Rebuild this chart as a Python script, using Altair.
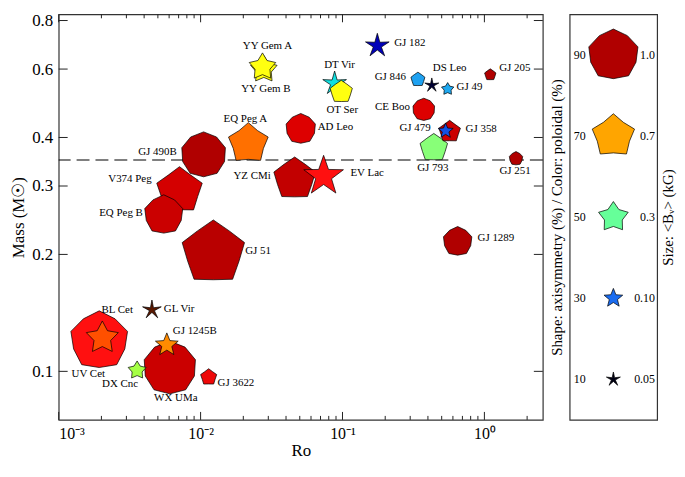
import altair as alt
import pandas as pd
import numpy as np

FONT = "Liberation Serif"

# ---------------- data ----------------
names = ["YY Gem A", "YY Gem B", "EQ Peg A", "GJ 490B", "V374 Peg", "EQ Peg B", "YZ CMi",
         "AD Leo", "EV Lac", "GJ 182", "DT Vir", "OT Ser", "GJ 846", "DS Leo", "GJ 49",
         "GJ 205", "CE Boo", "GJ 358", "GJ 479", "GJ 793", "GJ 251", "GJ 1289", "GJ 51",
         "UV Cet", "BL Cet", "GL Vir", "GJ 1245B", "WX UMa", "DX Cnc", "GJ 3622"]
ro = [0.0273, 0.0279, 0.0217, 0.0105, 0.0071, 0.0055, 0.046,
      0.0508, 0.0736, 0.176, 0.088, 0.098, 0.34, 0.426, 0.551,
      1.10, 0.374, 0.569, 0.533, 0.44, 1.67, 0.648, 0.0123,
      0.00193, 0.00203, 0.00454, 0.00578, 0.00607, 0.00357, 0.0114]
mass = [0.608, 0.598, 0.386, 0.361, 0.292, 0.253, 0.313,
        0.421, 0.318, 0.689, 0.551, 0.524, 0.564, 0.545, 0.533,
        0.580, 0.472, 0.414, 0.416, 0.376, 0.353, 0.216, 0.202,
        0.120, 0.122, 0.144, 0.117, 0.102, 0.1006, 0.0966]
bv = [0.23, 0.23, 0.60, 0.75, 0.83, 0.54, 0.67,
      0.29, 0.60, 0.175, 0.175, 0.15, 0.05, 0.05, 0.037,
      0.03, 0.14, 0.14, 0.06, 0.25, 0.044, 0.27, 1.76,
      1.40, 0.36, 0.10, 0.16, 1.10, 0.09, 0.07]
poloidal = [61, 61, 74, 90, 86, 87, 88,
            85, 81, 22, 42, 61, 37, 14, 38,
            90, 85, 87, 28, 54, 90, 90, 89,
            81, 77, 100, 72, 87, 57, 83]
axisym = [45, 45, 70, 95, 75, 90, 78,
          92, 25, 18, 18, 78, 78, 10, 45,
          78, 95, 75, 30, 78, 88, 90, 78,
          88, 40, 8, 30, 95, 45, 75]

leg_axisym = [90, 70, 50, 30, 10]
leg_pol = [90, 70, 50, 30, 10]
leg_bv = [1.0, 0.7, 0.3, 0.10, 0.05]
leg_bv_text = ["1.0", "0.7", "0.3", "0.10", "0.05"]

x_major = [0.001, 0.01, 0.1, 1]
x_minor = [0.002, 0.003, 0.004, 0.005, 0.006, 0.007, 0.008, 0.009,
           0.02, 0.03, 0.04, 0.05, 0.06, 0.07, 0.08, 0.09,
           0.2, 0.3, 0.4, 0.5, 0.6, 0.7, 0.8, 0.9, 2]
y_major = [0.1, 0.2, 0.3, 0.4, 0.6, 0.8]
split_mass = [0.35]

# label placement (align, dx, dy) -- styling
label_style = {
    "YY Gem A": ("center", 5, -21), "YY Gem B": ("center", 2, 20),
    "EQ Peg A": ("center", -3, -25), "GJ 490B": ("right", -27, -3),
    "V374 Peg": ("right", -28, -12), "EQ Peg B": ("right", -21, -2),
    "YZ CMi": ("right", -24, -3), "AD Leo": ("left", 17, -2),
    "EV Lac": ("left", 27, -3), "GJ 182": ("left", 17, -3),
    "DT Vir": ("center", 5, -19), "OT Ser": ("center", 1, 18),
    "GJ 846": ("right", -12, -3), "DS Leo": ("left", 1, -17),
    "GJ 49": ("left", 9, -2), "GJ 205": ("left", 9, -7),
    "CE Boo": ("right", -14, -3), "GJ 479": ("right", -15, -3),
    "GJ 358": ("left", 16, -3), "GJ 793": ("center", -1, 20),
    "GJ 251": ("center", -1, 13), "GJ 1289": ("left", 20, -3),
    "GJ 51": ("left", 32, -2), "UV Cet": ("center", -11, 34),
    "BL Cet": ("center", 15, -28), "GL Vir": ("left", 12, -1),
    "GJ 1245B": ("left", 6, -14), "WX UMa": ("center", 6, 30),
    "DX Cnc": ("right", 1, 14), "GJ 3622": ("left", 9, 6),
}


def star_path(a):
    """5-pointed star; inner radius grows with axisymmetry (decagon when fully axisymmetric)."""
    rho = 0.2 + 0.8 * a / 100.0
    pts = []
    for k in range(10):
        ang = np.deg2rad(-90 + 36 * k)
        r = 1.0 if k % 2 == 0 else rho
        pts.append(f"{r*np.cos(ang):.4f},{r*np.sin(ang):.4f}")
    return "M" + " L".join(pts) + " Z"


df = pd.DataFrame({"name": names, "ro": ro, "mass": mass, "bv": bv,
                   "pol": poloidal, "ax": axisym})
df["path"] = [star_path(a) for a in df["ax"]]
df = df.sort_values("bv", ascending=False).reset_index(drop=True)

ldf = pd.DataFrame({"ax": leg_axisym, "pol": leg_pol, "bv": leg_bv, "btxt": leg_bv_text})
ldf["path"] = [star_path(a) for a in ldf["ax"]]

# ---------------- scales / axes ----------------
W, H = 487, 408
LW = 88
xs = alt.Scale(type="log", domain=[0.001, 2.58], nice=False)
ys = alt.Scale(type="log", domain=[0.075, 0.83], nice=False)
size_scale = alt.Scale(type="pow", exponent=0.84, domain=[0, 1], range=[0, 2704])
color_scale = alt.Scale(
    domain=[0, 12, 16, 22, 30, 38, 42, 50, 55, 58, 61, 70, 74, 78, 81, 85, 90, 100],
    range=["#000000", "#000018", "#000050", "#0000b8", "#1a6cf0", "#1ea8f0", "#10e0e0",
           "#66ff99", "#90ff70", "#b0ff30", "#ffff10", "#ffa500", "#ff7000", "#ff4500",
           "#ff1010", "#dd0000", "#b00000", "#5a1800"],
    interpolate="rgb")

xlab = ("datum.value < 0.005 ? '10⁻³' : datum.value < 0.05 ? '10⁻²' : "
        "datum.value < 0.5 ? '10⁻¹' : '10⁰'")
x_axis = alt.Axis(values=x_major, labelExpr=xlab, ticks=False, domain=False, grid=False,
                  labelFontSize=16, labelPadding=6, title="Ro", titleFontSize=17,
                  titlePadding=1)
y_axis = alt.Axis(values=y_major, format=".1f", ticks=False, domain=False, grid=False,
                  labelFontSize=17, labelPadding=6, title="Mass (M☉)", titleFontSize=17,
                  titlePadding=4)

TICK = "#222222"

# ---------------- main panel ----------------
dash = alt.Chart(pd.DataFrame({"m": split_mass})).mark_rule(
    color="black", strokeWidth=1.2, strokeDash=[13, 6]).encode(
    y=alt.Y("m:Q", scale=ys, axis=y_axis))


def xticks(vals, length):
    d = pd.DataFrame({"t": vals})
    bot = alt.Chart(d).mark_rule(color=TICK, strokeWidth=1).encode(
        x=alt.X("t:Q", scale=xs, axis=x_axis), y=alt.value(H), y2=alt.value(H - length))
    top = alt.Chart(d).mark_rule(color=TICK, strokeWidth=1).encode(
        x=alt.X("t:Q", scale=xs, axis=x_axis), y=alt.value(0), y2=alt.value(length))
    return [bot, top]


yd = pd.DataFrame({"t": y_major})
ytick_l = alt.Chart(yd).mark_rule(color=TICK, strokeWidth=1).encode(
    y=alt.Y("t:Q", scale=ys, axis=y_axis), x=alt.value(0), x2=alt.value(9))
ytick_r = alt.Chart(yd).mark_rule(color=TICK, strokeWidth=1).encode(
    y=alt.Y("t:Q", scale=ys, axis=y_axis), x=alt.value(W), x2=alt.value(W - 9))

points = alt.Chart(df).mark_point(
    filled=True, opacity=1, stroke="black", strokeWidth=0.7).encode(
    x=alt.X("ro:Q", scale=xs, axis=x_axis),
    y=alt.Y("mass:Q", scale=ys, axis=y_axis),
    shape=alt.Shape("path:N", scale=None),
    size=alt.Size("bv:Q", scale=size_scale, legend=None),
    color=alt.Color("pol:Q", scale=color_scale, legend=None),
    order=alt.Order("bv:Q", sort="descending"),
)

labels = []
for n in names:
    al, dx, dy = label_style[n]
    labels.append(
        alt.Chart(df).transform_filter(alt.datum.name == n).mark_text(
            align=al, baseline="middle", dx=dx, dy=dy, font=FONT, fontSize=11,
            color="black").encode(
            x=alt.X("ro:Q", scale=xs, axis=x_axis),
            y=alt.Y("mass:Q", scale=ys, axis=y_axis),
            text="name:N"))

main = alt.layer(dash, *xticks(x_major, 8), *xticks(x_minor, 4), ytick_l, ytick_r,
                 points, *labels).properties(width=W, height=H)

# ---------------- legend panel ----------------
lys = alt.Scale(type="point", padding=0.5)
lxs = alt.Scale(type="point", domain=["l", "m", "r"], padding=0.3)
ly_sort = "descending"

leg_pts = alt.Chart(ldf).transform_calculate(col="'m'").mark_point(
    filled=True, opacity=1, stroke="black", strokeWidth=0.7).encode(
    x=alt.X("col:N", scale=lxs, axis=None),
    y=alt.Y("ax:O", sort=ly_sort, scale=lys, axis=alt.Axis(
        orient="left", title="Shape: axisymmetry (%) / Color: poloidal (%)",
        labels=False, ticks=False, domain=False, titleFontSize=15, titlePadding=5)),
    shape=alt.Shape("path:N", scale=None),
    size=alt.Size("bv:Q", scale=size_scale, legend=None),
    color=alt.Color("pol:Q", scale=color_scale, legend=None),
)
leg_left = alt.Chart(ldf).transform_calculate(col="'l'").mark_text(
    align="center", baseline="middle", font=FONT, fontSize=12, color="black").encode(
    x=alt.X("col:N", scale=lxs, axis=None),
    y=alt.Y("ax:O", sort=ly_sort, scale=lys, axis=None),
    text="ax:N")
leg_right = alt.Chart(ldf).transform_calculate(col="'r'").mark_text(
    align="right", dx=8, baseline="middle", font=FONT, fontSize=12, color="black").encode(
    x=alt.X("col:N", scale=lxs, axis=None),
    y=alt.Y("ax:O", sort=ly_sort, scale=lys, axis=alt.Axis(
        orient="right", title="Size: <Bᵥ> (kG)", labels=False, ticks=False,
        domain=False, titleFontSize=15, titlePadding=3, titleAngle=270,
        titleBaseline="top")),
    text="btxt:N")

legend = alt.layer(leg_pts, leg_left, leg_right).resolve_axis(
    y="independent").properties(width=LW, height=H)

chart = alt.hconcat(main, legend, spacing=27, bounds="flush").properties(
    padding={"left": 1, "top": 1, "right": 1, "bottom": 1},
).configure_view(stroke="#333333", strokeWidth=1.2).configure_axis(
    labelFont=FONT, titleFont=FONT, titleFontWeight="normal",
    labelColor="black", titleColor="black").configure_text(font=FONT)

chart.save("out.html", embed_options={"renderer": "svg", "actions": False})
